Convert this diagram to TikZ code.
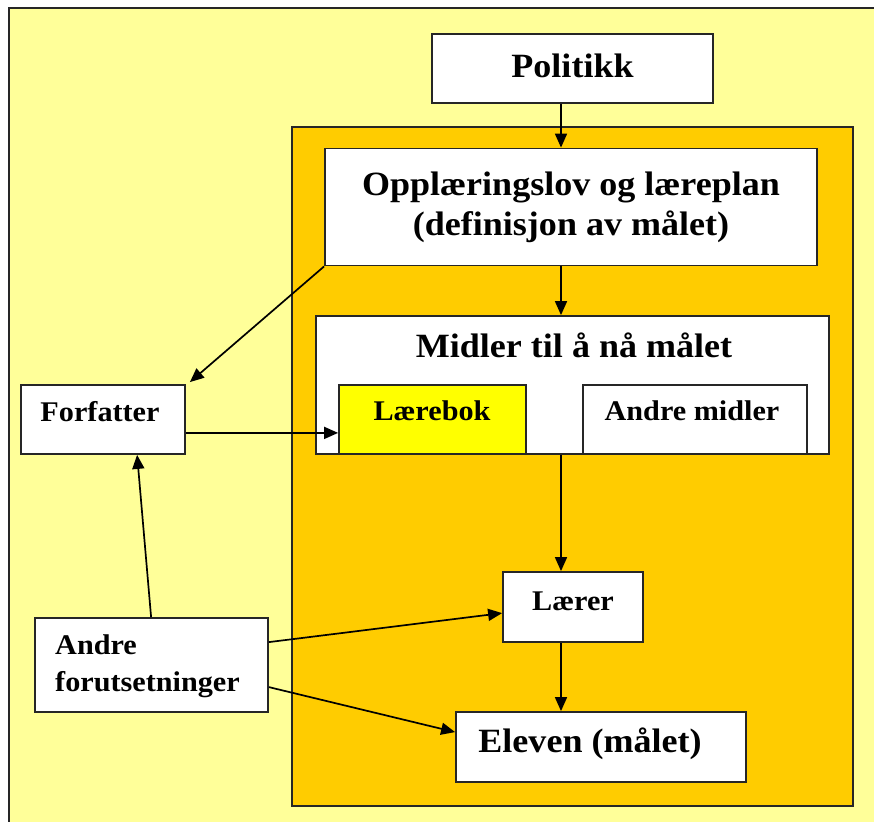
\documentclass[tikz,border=0pt]{standalone}
\usepackage{fontspec}
\setmainfont{Liberation Serif}[FakeStretch=1.06]
\usetikzlibrary{arrows.meta,calc}
\definecolor{paleyellow}{HTML}{FFFF99}
\definecolor{goldbg}{HTML}{FFCC00}
\definecolor{bookyellow}{HTML}{FFFF00}
\tikzset{
  box/.style={draw=black!85, line width=1.8pt, fill=white, rectangle, inner sep=0pt},
  bigtxt/.style={font=\bfseries\fontsize{34}{40}\selectfont, align=center, inner sep=0pt},
  smalltxt/.style={font=\bfseries\fontsize{28.5}{37}\selectfont, inner sep=0pt},
  arr/.style={draw=black, line width=1.7pt, -{Triangle[length=14pt,width=12pt]}}
}
\begin{document}
\begin{tikzpicture}[x=1pt,y=-1pt]
\useasboundingbox (0,0) rectangle (874,821);
\clip (0,0) rectangle (874,821);
\fill[white] (0,0) rectangle (874,821);
% backgrounds
\draw[fill=paleyellow, draw=black!85, line width=2pt] (9,8) rectangle (900,850);
\draw[fill=goldbg, draw=black!85, line width=1.8pt] (292,127) rectangle (853,806);
\coordinate (spine) at (561,0);
% boxes
\node[box, minimum width=281pt, minimum height=69pt] (pol) at (572.5,68.5) {};
\node[bigtxt] (poltxt) at (572.5,66) {Politikk};
\node[box, minimum width=492pt, minimum height=117pt, bigtxt] (opp) at (571,207) {Opplæringslov og læreplan\\(definisjon av målet)};
\node[box, minimum width=513pt, minimum height=138pt] (mid) at (572.5,385) {};
\node[bigtxt] (midtxt) at (574,345) {Midler til å nå målet};
\node[box, fill=bookyellow, minimum width=187pt, minimum height=69pt] (lb) at (432.5,419.5) {};
\node[smalltxt] (lbtxt) at (432,411) {Lærebok};
\node[box, minimum width=224pt, minimum height=69pt] (am) at (695,419.5) {};
\node[smalltxt] (amtxt) at (692,411) {Andre midler};
\node[box, minimum width=164pt, minimum height=69pt] (forf) at (103,419.5) {};
\node[smalltxt] (forftxt) at (100,412) {Forfatter};
\node[box, minimum width=140pt, minimum height=70pt] (lae) at (573,607) {};
\node[smalltxt] (laetxt) at (573,601) {Lærer};
\node[box, minimum width=290pt, minimum height=70pt] (elv) at (601,747) {};
\node[bigtxt] (elvtxt) at (590,744) {Eleven (målet)};
\node[box, minimum width=233pt, minimum height=94pt] (af) at (151.5,665) {};
\node[smalltxt, align=left, anchor=west] (aftxt) at (55,666) {Andre\\forutsetninger};
% connectors
\draw[arr] (pol.south -| spine) -- (opp.north -| spine);
\draw[arr] (opp.south -| spine) -- (mid.north -| spine);
\draw[arr] (mid.south -| spine) -- (lae.north -| spine);
\draw[arr] (lae.south -| spine) -- (elv.north -| spine);
\draw[arr] (opp.south west) -- ($(forf.north east)+(4,-2)$);
\draw[arr] ($(forf.south east)+(0,-22)$) -- ($(lb.south west)+(0,-22)$);
\draw[arr] ($(af.north west)+(117,0)$) -- ($(forf.south west)+(117,0)$);
\draw[arr] ($(af.north east)+(0,25)$) -- ($(lae.north west)+(0,42)$);
\draw[arr] ($(af.north east)+(0,70)$) -- ($(elv.north west)+(0,21)$);
\end{tikzpicture}
\end{document}
